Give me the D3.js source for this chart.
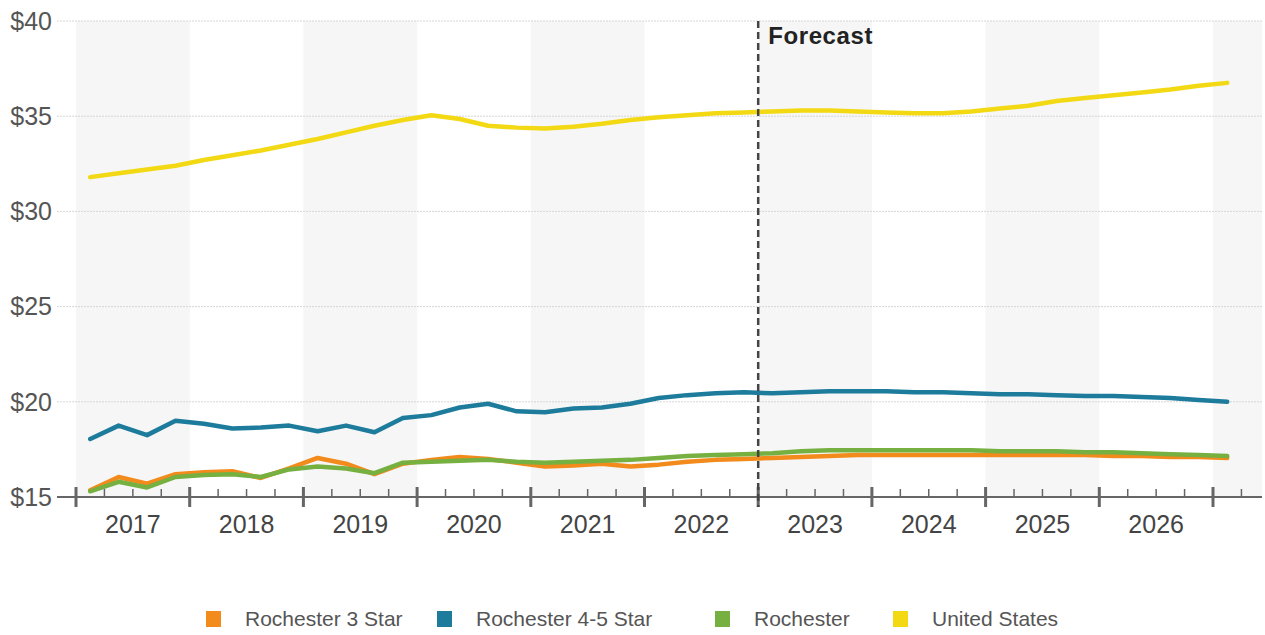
<!DOCTYPE html>
<html>
<head>
<meta charset="utf-8">
<script src="https://cdn.jsdelivr.net/npm/d3@7"></script>
<style>
  body { margin: 0; background: #fff; }
  text { font-family: "Liberation Sans", Arial, sans-serif; }
</style>
</head>
<body>
<div id="my_dataviz"></div>
<script>
// quarterly values, 2017 Q1 .. 2027 Q1
var years = [2017, 2018, 2019, 2020, 2021, 2022, 2023, 2024, 2025, 2026]
var yTicks = [15, 20, 25, 30, 35, 40]
var forecastStart = 24  // quarter index where the forecast begins (2023 Q1)

var star3 = [15.35, 16.05, 15.7, 16.2, 16.3, 16.35, 16.0, 16.5, 17.05, 16.75,
  16.2, 16.75, 16.95, 17.1, 17.0, 16.8, 16.6, 16.65, 16.75, 16.6,
  16.7, 16.85, 16.95, 17.0, 17.05, 17.1, 17.15, 17.2, 17.2, 17.2,
  17.2, 17.2, 17.2, 17.2, 17.2, 17.2, 17.15, 17.15, 17.1, 17.1, 17.05]
var star45 = [18.05, 18.75, 18.25, 19.0, 18.85, 18.6, 18.65, 18.75, 18.45, 18.75,
  18.4, 19.15, 19.3, 19.7, 19.9, 19.5, 19.45, 19.65, 19.7, 19.9,
  20.2, 20.35, 20.45, 20.5, 20.45, 20.5, 20.55, 20.55, 20.55, 20.5,
  20.5, 20.45, 20.4, 20.4, 20.35, 20.3, 20.3, 20.25, 20.2, 20.1, 20.0]
var rochester = [15.3, 15.8, 15.5, 16.05, 16.15, 16.2, 16.05, 16.45, 16.6, 16.5,
  16.25, 16.8, 16.85, 16.9, 16.95, 16.85, 16.8, 16.85, 16.9, 16.95,
  17.05, 17.15, 17.2, 17.25, 17.3, 17.4, 17.45, 17.45, 17.45, 17.45,
  17.45, 17.45, 17.4, 17.4, 17.4, 17.35, 17.35, 17.3, 17.25, 17.2, 17.15]
var unitedStates = [31.8, 32.0, 32.2, 32.4, 32.7, 32.95, 33.2, 33.5, 33.8, 34.15,
  34.5, 34.8, 35.05, 34.85, 34.5, 34.4, 34.35, 34.45, 34.6, 34.8,
  34.95, 35.05, 35.15, 35.2, 35.25, 35.3, 35.3, 35.25, 35.2, 35.15,
  35.15, 35.25, 35.4, 35.55, 35.8, 35.95, 36.1, 36.25, 36.4, 36.6, 36.75]

var seriesNames = ["Rochester 3 Star", "Rochester 4-5 Star", "Rochester", "United States"]
var seriesValues = [star3, star45, rochester, unitedStates]
var colors = ["#f28a1c", "#1d7b9c", "#76b041", "#f2d913"]

var width = 1265, height = 635

var svg = d3.select("#my_dataviz")
  .append("svg")
  .attr("width", width)
  .attr("height", height)

// x in quarters from 2017 Q1 start
var x = d3.scaleLinear().domain([0, 40]).range([76, 1213])
var y = d3.scaleLinear().domain([15, 40]).range([497, 21])
var xEnd = 1262, xLeft = 57

// alternating year bands
svg.selectAll("rect.band")
  .data(d3.range(0, 6))
  .enter()
  .append("rect")
  .attr("x", function(d){ return x(d * 8) })
  .attr("y", y(40))
  .attr("width", function(d){ return Math.min(x(d * 8 + 4), xEnd) - x(d * 8) })
  .attr("height", y(15) - y(40))
  .attr("fill", "#f6f6f6")

// grid lines
svg.selectAll("line.grid")
  .data(yTicks.slice(1))
  .enter()
  .append("line")
  .attr("x1", xLeft).attr("x2", xEnd)
  .attr("y1", function(d){ return y(d) }).attr("y2", function(d){ return y(d) })
  .attr("stroke", "#d6d6d6")
  .attr("stroke-dasharray", "2,1")

// y labels
svg.selectAll("text.ylab")
  .data(yTicks)
  .enter()
  .append("text")
  .attr("x", 52)
  .attr("y", function(d){ return y(d) })
  .attr("dy", "0.35em")
  .attr("text-anchor", "end")
  .style("font-size", "25px")
  .attr("fill", "#555")
  .text(function(d){ return "$" + d })

// x axis line and ticks
svg.append("line")
  .attr("x1", xLeft).attr("x2", xEnd)
  .attr("y1", y(15)).attr("y2", y(15))
  .attr("stroke", "#666").attr("stroke-width", 2)

svg.selectAll("line.tick")
  .data(d3.range(0, 42))
  .enter()
  .append("line")
  .attr("x1", function(d){ return x(d) }).attr("x2", function(d){ return x(d) })
  .attr("y1", function(d){ return d % 4 == 0 ? y(15) - 10 : y(15) - 8 })
  .attr("y2", function(d){ return d % 4 == 0 ? y(15) + 10 : y(15) })
  .attr("stroke", "#666")
  .attr("stroke-width", function(d){ return d % 4 == 0 ? 3 : 1.5 })

svg.selectAll("text.xlab")
  .data(years)
  .enter()
  .append("text")
  .attr("x", function(d, i){ return x(i * 4 + 2) })
  .attr("y", 533)
  .attr("text-anchor", "middle")
  .style("font-size", "25px")
  .attr("fill", "#444")
  .text(function(d){ return d })

// lines
var line = d3.line()
  .x(function(d, i){ return x(i + 0.5) })
  .y(function(d){ return y(d) })

svg.selectAll("path.series")
  .data(seriesValues)
  .enter()
  .append("path")
  .attr("d", line)
  .attr("fill", "none")
  .attr("stroke", function(d, i){ return colors[i] })
  .attr("stroke-width", 4.5)
  .attr("stroke-linejoin", "round")
  .attr("stroke-linecap", "round")

// forecast marker
svg.append("line")
  .attr("x1", x(forecastStart)).attr("x2", x(forecastStart))
  .attr("y1", y(40)).attr("y2", y(15) + 10)
  .attr("stroke", "#444")
  .attr("stroke-width", 2.5)
  .attr("stroke-dasharray", "7,4")

svg.append("text")
  .attr("x", x(forecastStart) + 10)
  .attr("y", 44)
  .style("font-size", "24px")
  .style("font-weight", "bold")
  .style("letter-spacing", "0.6px")
  .attr("fill", "#222")
  .text("Forecast")

// legend
var legendX = [206, 437, 715, 893]
var legend = svg.selectAll("g.legend")
  .data(seriesNames)
  .enter()
  .append("g")
  .attr("transform", function(d, i){ return "translate(" + legendX[i] + ",611)" })

legend.append("rect")
  .attr("width", 15).attr("height", 16)
  .attr("fill", function(d, i){ return colors[i] })

legend.append("text")
  .attr("x", 39)
  .attr("y", 15)
  .style("font-size", "21px")
  .attr("fill", "#555")
  .text(function(d){ return d })
</script>
</body>
</html>
